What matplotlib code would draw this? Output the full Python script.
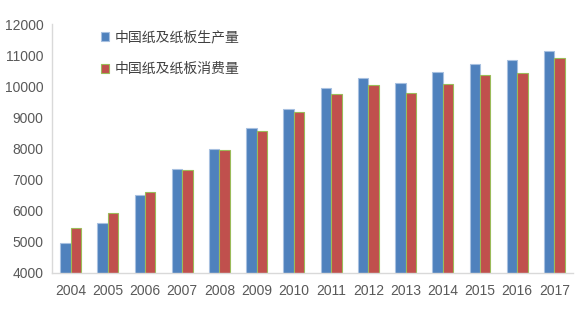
import numpy as np
import matplotlib
matplotlib.use("Agg")
import matplotlib.pyplot as plt

plt.rcParams['font.family'] = ['Liberation Sans', 'Noto Sans CJK SC', 'DejaVu Sans']

years = ['2004', '2005', '2006', '2007', '2008', '2009', '2010',
         '2011', '2012', '2013', '2014', '2015', '2016', '2017']
production = [4950, 5600, 6500, 7350, 7980, 8640, 9270,
              9930, 10250, 10110, 10470, 10710, 10855, 11130]
consumption = [5439, 5930, 6600, 7290, 7935, 8569, 9173,
               9752, 10048, 9782, 10071, 10352, 10419, 10897]
labels = ['中国纸及纸板生产量', '中国纸及纸板消费量']

fig = plt.figure(figsize=(5.88, 3.12), dpi=100)
ax = fig.add_axes([52 / 588, 1 - 272.7 / 312, 521 / 588, (272.7 - 24) / 312])

x = np.arange(len(years))
w = 0.28
ax.bar(x - w / 2, production, w, color='#4F81BD',
       edgecolor='#A7C0E0', linewidth=0.8, label=labels[0])
ax.bar(x + w / 2, consumption, w, color='#C0504D',
       edgecolor='#9BBB59', linewidth=0.8, label=labels[1])

ax.set_ylim(4000, 12000)
ax.set_yticks(range(4000, 12001, 1000))
ax.set_xlim(-0.5, len(years) - 0.5)
ax.set_xticks(x)
ax.set_xticklabels(years)

for s in ['top', 'right']:
    ax.spines[s].set_visible(False)
for s in ['left', 'bottom']:
    ax.spines[s].set_color('#D9D9D9')
    ax.spines[s].set_linewidth(1)
ax.tick_params(axis='both', length=0, colors='#595959', labelsize=10)
ax.tick_params(axis='x', pad=8)
ax.tick_params(axis='y', pad=6)

leg = ax.legend(loc='upper left', bbox_to_anchor=(0.07, 1.023), frameon=False,
                handlelength=0.6, handleheight=0.6,
                handletextpad=0.4, labelspacing=1.25,
                prop={'family': ['Noto Sans CJK SC', 'DejaVu Sans'], 'size': 10})
for t in leg.get_texts():
    t.set_color('#404040')

fig.savefig('out.png', dpi=100)
